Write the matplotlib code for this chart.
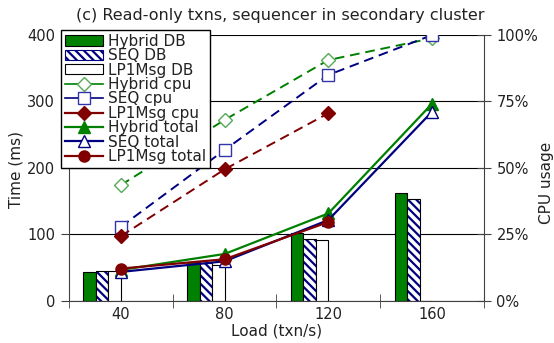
import matplotlib
matplotlib.use("Agg")
import matplotlib.pyplot as plt
import numpy as np
from matplotlib.patches import Patch
from matplotlib.lines import Line2D

# datos
cargas = ["40", "80", "120", "160"]
hybrid_db = [43, 58, 101, 162]
seq_db = [45, 57, 92, 153]
lp1msg_db = [44, 54, 91, 0]

hybrid_cpu = [0.434, 0.679, 0.904, 0.986]
seq_cpu = [0.277, 0.566, 0.848, 0.998]
lp1msg_cpu = [0.242, 0.493, 0.704]

hybrid_total = [46, 70, 131, 296]
seq_total = [43, 59, 121, 284]
lp1msg_total = [48, 62, 118]

verde = "#008000"
azul = "#000080"
rojo = "#800000"
gris = "#404040"

plt.rcParams["font.family"] = ["DejaVu Sans"]
plt.rcParams["font.size"] = 10.5
plt.rcParams["text.color"] = "#222222"
plt.rcParams["xtick.color"] = gris
plt.rcParams["ytick.color"] = gris
plt.rcParams["xtick.labelcolor"] = "#222222"
plt.rcParams["ytick.labelcolor"] = "#222222"
plt.rcParams["hatch.linewidth"] = 1.6

fig = plt.figure(figsize=(5.54, 3.43), dpi=100)
ax = fig.add_axes([0.1245, 0.1239, 0.7491, 0.7755])
x = np.arange(len(cargas))
w = 0.12

# barras
ax.bar(x - 0.30, hybrid_db, w, color=verde, edgecolor="black", lw=0.8, zorder=2)
ax.bar(x - 0.18, seq_db, w, color="white", edgecolor=azul, hatch="\\\\\\\\", lw=0, zorder=2)
ax.bar(x - 0.18, seq_db, w, color="none", edgecolor="black", lw=0.8, zorder=2)
ax.bar(x - 0.06, lp1msg_db, w, color="white", edgecolor="black", lw=0.8, zorder=2)

# tiempos totales
ax.plot(x, hybrid_total, color=verde, lw=1.6, marker="^", ms=8, mfc=verde, mec=verde, zorder=4)
ax.plot(x, seq_total, color=azul, lw=1.6, marker="^", ms=8, mfc="white", mec=azul, zorder=4)
ax.plot(x[:3], lp1msg_total, color=rojo, lw=1.6, marker="o", ms=8, mfc=rojo, mec=rojo, zorder=5)

ax.set_xlim(-0.5, 3.5)
ax.set_ylim(0, 400)
ax.set_yticks([0, 100, 200, 300, 400])
ax.set_xticks(x)
ax.set_xticklabels(cargas)
ax.set_xticks(np.arange(-0.5, 4, 1), minor=True)
ax.tick_params(axis="x", which="major", length=0, pad=5)
ax.tick_params(axis="x", which="minor", direction="inout", length=10)
ax.tick_params(axis="y", direction="out", length=6, pad=4)
ax.grid(axis="y", color="black", lw=0.8, zorder=0)
ax.set_axisbelow(True)
for s in ["top", "right"]:
    ax.spines[s].set_visible(False)
for s in ["left", "bottom"]:
    ax.spines[s].set_color(gris)

# uso de cpu
ax2 = ax.twinx()
ax2.plot(x, hybrid_cpu, color=verde, lw=1.4, ls=(0, (5, 3)), marker="D", ms=7,
         mfc="white", mec="#55aa55")
ax2.plot(x, seq_cpu, color=azul, lw=1.4, ls=(0, (5, 3)), marker="s", ms=8,
         mfc="white", mec="#3333aa")
ax2.plot(x[:3], lp1msg_cpu, color=rojo, lw=1.4, ls=(0, (5, 3)), marker="D", ms=7,
         mfc=rojo, mec=rojo)
ax2.set_ylim(0, 1)
ax2.set_yticks([0, 0.25, 0.5, 0.75, 1])
ax2.set_yticklabels(["0%", "25%", "50%", "75%", "100%"])
ax2.tick_params(axis="y", direction="inout", length=10, pad=4)
for s in ["top", "left", "bottom"]:
    ax2.spines[s].set_visible(False)
ax2.spines["right"].set_color(gris)

fig.text(0.505, 0.956, "(c) Read-only txns, sequencer in secondary cluster",
         ha="center", va="center", fontsize=11.5)
fig.text(0.029, 0.507, "Time (ms)", rotation=90, ha="center", va="center", fontsize=11)
fig.text(0.987, 0.466, "CPU usage", rotation=90, ha="center", va="center", fontsize=11)
fig.text(0.5, 0.034, "Load (txn/s)", ha="center", va="center", fontsize=11)

handles = [
    Patch(facecolor=verde, edgecolor="black", lw=0.8),
    Patch(facecolor="white", edgecolor=azul, hatch="\\\\\\\\", lw=0.8),
    Patch(facecolor="white", edgecolor="black", lw=0.8),
    Line2D([], [], color=verde, lw=1.2, marker="D", ms=7, mfc="white", mec="#55aa55"),
    Line2D([], [], color=azul, lw=1.2, marker="s", ms=8, mfc="white", mec="#3333aa"),
    Line2D([], [], color=rojo, lw=1.6, marker="D", ms=7, mfc=rojo, mec=rojo),
    Line2D([], [], color=verde, lw=1.6, marker="^", ms=8, mfc=verde, mec=verde),
    Line2D([], [], color=azul, lw=1.6, marker="^", ms=8, mfc="white", mec=azul),
    Line2D([], [], color=rojo, lw=1.6, marker="o", ms=8, mfc=rojo, mec=rojo),
]
labels = ["Hybrid DB", "SEQ DB", "LP1Msg DB", "Hybrid cpu", "SEQ cpu", "LP1Msg cpu",
          "Hybrid total", "SEQ total", "LP1Msg total"]
leg = ax2.legend(handles, labels, loc="upper left", bbox_to_anchor=(0.110, 0.9125),
                 bbox_transform=fig.transFigure, borderaxespad=0, fancybox=False,
                 framealpha=1, edgecolor="black", labelspacing=-0.04, handlelength=2.5,
                 handletextpad=0.35, borderpad=0.25, handleheight=0.65, fontsize=11)
leg.get_frame().set_linewidth(1.0)
leg.set_zorder(10)

fig.savefig("out.png", dpi=100)
